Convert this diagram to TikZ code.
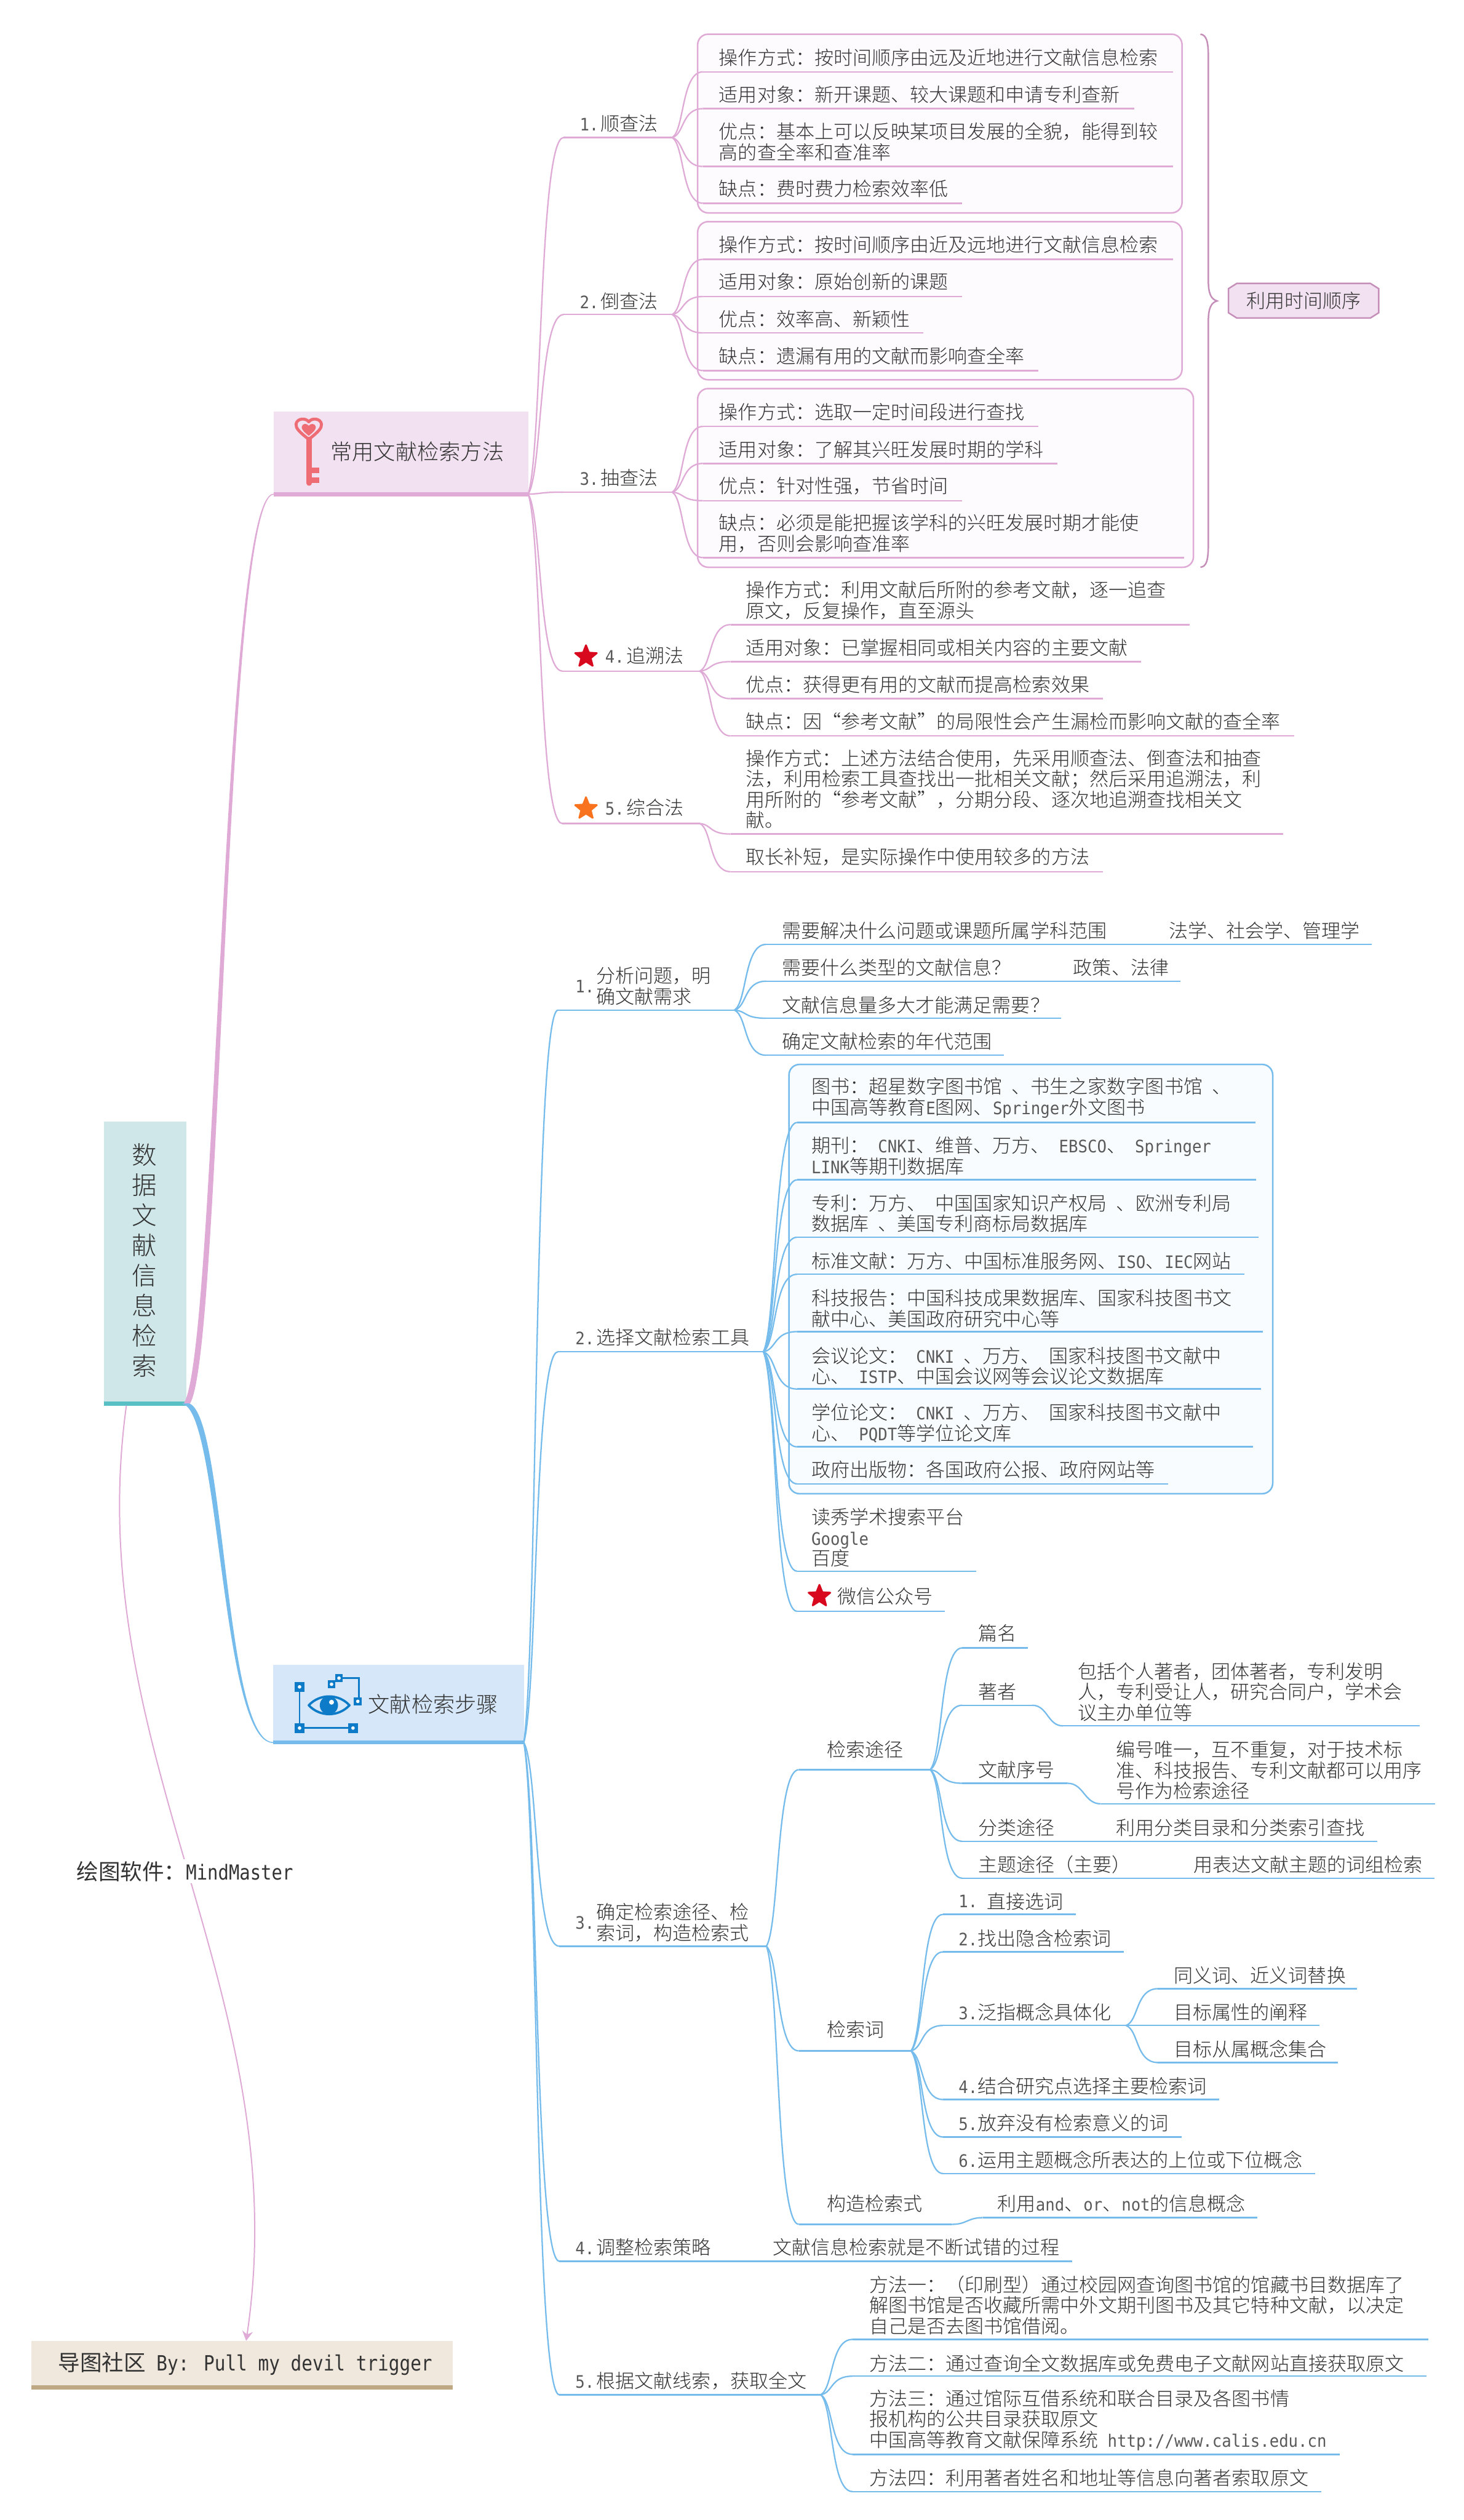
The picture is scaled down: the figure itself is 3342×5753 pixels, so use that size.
\documentclass[tikz,border=0pt]{standalone}
\usepackage{fontspec}
\usetikzlibrary{calc,shapes.geometric,arrows.meta}
\setmainfont{Noto Sans CJK SC}[UprightFont=* Light,WordSpace=2.2]
\newfontfamily\regf{Noto Sans CJK SC}[WordSpace=2.2]
\newfontfamily\latf{DejaVu Sans Mono}[Scale=0.9,FakeStretch=0.92]
\newfontfamily\dvm{DejaVu Sans Mono}[FakeStretch=0.86]
\definecolor{txtl}{HTML}{5A5A5A}
\newcommand{\lat}[1]{{\latf\color{txtl}#1}}
\definecolor{pinkc}{HTML}{DFAAD5}
\definecolor{pinkd}{HTML}{C58FBA}
\definecolor{pinkf}{HTML}{F2E1F0}
\definecolor{pinkb}{HTML}{FEFBFE}
\definecolor{bluec}{HTML}{75BCEC}
\definecolor{bluef}{HTML}{D5E7F8}
\definecolor{blueb}{HTML}{F9FCFE}
\definecolor{icob}{HTML}{0D7BC8}
\definecolor{icor}{HTML}{EE6C74}
\definecolor{tealf}{HTML}{CFE7E9}
\definecolor{tealb}{HTML}{58BFC4}
\definecolor{tanf}{HTML}{F0E8DD}
\definecolor{tanb}{HTML}{BFA984}
\definecolor{txtc}{HTML}{333333}
\definecolor{starr}{HTML}{D8091F}
\definecolor{staro}{HTML}{F9731F}
\tikzset{
 txt/.style={anchor=west,inner sep=0,align=left,text=txtc,font=\fontsize{10.9}{11.75}\selectfont},
 pinkln/.style={draw=pinkc,line width=.8pt},
 blueln/.style={draw=bluec,line width=.8pt},
 stark/.style={star,star points=5,star point ratio=2.3,inner sep=0,minimum size=13pt,line join=round,line width=1pt},
 sq/.style={fill=icob,inner sep=0,minimum size=5.5pt,rectangle},
 sqs/.style={fill=icob,inner sep=0,minimum size=4.5pt,rectangle},
}
\newcommand{\RN}[6]{\pgfmathsetmacro\wtmp{(#4-#2)*.25}\pgfmathsetmacro\htmp{(#5-#3)*.25}\node[#6,anchor=north west,inner sep=0,outer sep=0,minimum width=\wtmp pt,minimum height=\htmp pt] (#1) at (#2,#3) {};}
\newcommand{\mconn}[3]{\draw[#3] let \p1=(#1),\p2=(#2),\n1={\x2-\x1},\n2={\y2-\y1} in (\p1) .. controls ({\x1+.4*\n1},{\y1+.12*\n2}) and ({\x1+.3*\n1},{\y2}) .. (\p2);}
\newcommand{\sconn}[3]{\draw[#3] let \p1=(#1),\p2=(#2),\n1={\x2-\x1},\n2={\y2-\y1} in (\p1) .. controls ({\x1+.5*\n1},{\y1}) and ({\x1+.5*\n1},{\y2}) .. (\p2);}
\newcommand{\taper}[5]{\fill[#3,draw=#3,line width=.5pt] let \p1=(#1),\p2=(#2),\n1={\x2-\x1},\n2={\y2-\y1} in
 ({\x1-1.5pt},{\y1}) .. controls ({\x1+#4*\n1-1.3pt},{\y1+#5*\n2}) and ({\x1+.42*\n1-.5pt},{\y2}) .. (\p2)
 .. controls ({\x1+.42*\n1+.5pt},{\y2}) and ({\x1+#4*\n1+1.3pt},{\y1+#5*\n2}) .. ({\x1+1.5pt},{\y1}) -- cycle;}
% branch: name, parent, xs, xe, y
\newcommand{\Br}[5]{\coordinate (#1-l) at (#3,#5);\coordinate (#1-r) at (#4,#5);\mconn{#2-r}{#1-l}{ln}\draw[ln,line width=.875pt] (#1-l) -- (#1-r);}
\newcommand{\Sb}[5]{\coordinate (#1-l) at (#3,#5);\coordinate (#1-r) at (#4,#5);\sconn{#2-r}{#1-l}{ln}\draw[ln,line width=.875pt] (#1-l) -- (#1-r);}
\newcommand{\T}[4]{\node[txt] (#1-t) at (#2,#3) {#4};}
\newcommand{\nn}[1]{\lat{#1}\hspace{1.2pt}}
\begin{document}
\begin{tikzpicture}[x=.25pt,y=-.25pt]
\useasboundingbox[fill=white] (0,0) rectangle (3342,5753);
% ---------- root
\RN{root}{238}{2560}{426}{3209}{fill=tealf}
\RN{rootbar}{238}{3200}{426}{3209}{fill=tealb}
\node[inner sep=0,align=center,text=txtc,font=\fontsize{14.25}{17.2}\selectfont] (roott) at (330,2877.5) {数\\据\\文\\献\\信\\息\\检\\索};
\coordinate (root-r) at (426,3205);
% ---------- first-level nodes
\RN{key}{625}{939}{1206}{1133}{fill=pinkf}
\RN{keybar}{625}{1124}{1206}{1133}{fill=pinkc}
\coordinate (key-l) at (625,1128);
\coordinate (key-r) at (1206,1128);
\node[txt,font=\fontsize{12.375}{14}\selectfont] (keyt) at (754,1031) {常用文献检索方法};
\RN{step}{623.5}{3801}{1196}{3982}{fill=bluef}
\RN{stepbar}{623.5}{3974}{1196}{3982}{fill=bluec}
\coordinate (step-l) at (623.5,3978);
\coordinate (step-r) at (1196,3978);
\node[txt,font=\fontsize{12.375}{14}\selectfont] (stept) at (840,3890) {文献检索步骤};
\taper{root-r}{key-l}{pinkc}{.38}{.05}
\taper{root-r}{step-l}{bluec}{.42}{.04}
% key icon
\draw[icor,line width=1.7pt,line join=round] (705,1003) .. controls (682,985) and (675,977) .. (676,968) .. controls (678,955) and (698,953) .. (705,963) .. controls (712,953) and (732,955) .. (734,968) .. controls (735,977) and (728,985) .. (705,1003) -- cycle;
\fill[icor] (705,995) .. controls (693,985) and (688,980) .. (689,974) .. controls (691,966) and (701,966) .. (705,972) .. controls (709,966) and (719,966) .. (721,974) .. controls (722,980) and (717,985) .. (705,995) -- cycle;
\draw[icor,line width=3pt,line cap=round] (706,1003) -- (706,1103);
\draw[icor,line width=3pt] (708,1074) -- (729,1074) (708,1096) -- (729,1096);
% eye icon
\draw[icob,line width=1pt] (684,3851) -- (684,3945) -- (806,3945);
\draw[icob,line width=1pt] (774,3831) -- (819,3831) -- (819,3884);
\node[sq] (ic1) at (684,3851) {};\node[sq] (ic2) at (684,3945) {};\node[sq] (ic3) at (806,3945) {};
\node[sqs] (ic4) at (817,3884) {};\node[sqs] (ic5) at (774,3831) {};\node[sqs] (ic6) at (757,3845) {};
\foreach \a/\b in {684/3851,684/3945,806/3945,817/3884,774/3831,757/3845}{\fill[white] (\a,\b) circle (1pt);}
\draw[icob,line width=1.3pt,line join=round] (705,3893) .. controls (730,3866) and (773,3866) .. (798,3893) .. controls (773,3920) and (730,3920) .. (705,3893) -- cycle;
\fill[icob] (751,3893) circle (5.2pt);
\fill[white] (757,3886) circle (1.4pt);
% ---------- containers
\RN{cA}{1593}{78}{2699}{486}{draw=pinkc,fill=pinkb,line width=.875pt,rounded corners=6pt}
\RN{cB}{1593}{506}{2699}{867}{draw=pinkc,fill=pinkb,line width=.875pt,rounded corners=6pt}
\RN{cC}{1593}{887}{2725}{1295}{draw=pinkc,fill=pinkb,line width=.875pt,rounded corners=6pt}
\RN{cD}{1801.5}{2430}{2906}{3410}{draw=bluec,fill=blueb,line width=.875pt,rounded corners=6pt}
% ---------- pink half
\begin{scope}[ln/.style=pinkln]
\Br{a}{key}{1287}{1535}{314}\T{a}{1323}{282}{\nn{1.}顺查法}
\Br{b}{key}{1287}{1535}{718}\T{b}{1323}{688}{\nn{2.}倒查法}
\Br{c}{key}{1287}{1535}{1123.5}\T{c}{1323}{1091}{\nn{3.}抽查法}
\Br{d}{key}{1284}{1598}{1532}\T{d}{1381}{1496.5}{\nn{4.}追溯法}
\Br{e}{key}{1284}{1598}{1880}\T{e}{1381}{1844}{\nn{5.}综合法}
\node[stark,fill=starr,draw=starr] (stara) at (1338,1499) {};
\node[stark,fill=staro,draw=staro] (starb) at (1338,1846) {};
\Br{a1}{a}{1605}{2678}{164}\T{a1}{1641}{131}{操作方式：按时间顺序由远及近地进行文献信息检索}
\Br{a2}{a}{1605}{2590}{248}\T{a2}{1641}{216}{适用对象：新开课题、较大课题和申请专利查新}
\Br{a3}{a}{1605}{2678}{380}\T{a3}{1641}{323.5}{优点：基本上可以反映某项目发展的全貌，能得到较\\高的查全率和查准率}
\Br{a4}{a}{1605}{2196}{464}\T{a4}{1641}{431}{缺点：费时费力检索效率低}
\Br{b1}{b}{1605}{2678}{592}\T{b1}{1641}{559}{操作方式：按时间顺序由近及远地进行文献信息检索}
\Br{b2}{b}{1605}{2196}{677}\T{b2}{1641}{643.5}{适用对象：原始创新的课题}
\Br{b3}{b}{1605}{2108}{760}\T{b3}{1641}{728}{优点：效率高、新颖性}
\Br{b4}{b}{1605}{2371}{846}\T{b4}{1641}{813}{缺点：遗漏有用的文献而影响查全率}
\Br{c1}{c}{1605}{2371}{973.5}\T{c1}{1641}{941}{操作方式：选取一定时间段进行查找}
\Br{c2}{c}{1605}{2414}{1058}\T{c2}{1641}{1026}{适用对象：了解其兴旺发展时期的学科}
\Br{c3}{c}{1605}{2196}{1143}\T{c3}{1641}{1109}{优点：针对性强，节省时间}
\Br{c4}{c}{1605}{2704}{1273}\T{c4}{1641}{1217.5}{缺点：必须是能把握该学科的兴旺发展时期才能使\\用，否则会影响查准率}
\Br{d1}{d}{1668}{2717}{1426}\T{d1}{1702}{1370.5}{操作方式：利用文献后所附的参考文献，逐一追查\\原文，反复操作，直至源头}
\Br{d2}{d}{1668}{2605}{1510.5}\T{d2}{1702}{1478}{适用对象：已掌握相同或相关内容的主要文献}
\Br{d3}{d}{1668}{2518}{1595}\T{d3}{1702}{1563}{优点：获得更有用的文献而提高检索效果}
\Br{d4}{d}{1668}{2955}{1680}\T{d4}{1702}{1647}{缺点：因“参考文献”的局限性会产生漏检而影响文献的查全率}
\Br{e1}{e}{1668}{2930}{1904}\T{e1}{1702}{1801.5}{操作方式：上述方法结合使用，先采用顺查法、倒查法和抽查\\法，利用检索工具查找出一批相关文献；然后采用追溯法，利\\用所附的“参考文献”，分期分段、逐次地追溯查找相关文\\献。}
\Br{e2}{e}{1668}{2518}{1990}\T{e2}{1702}{1956}{取长补短，是实际操作中使用较多的方法}
\end{scope}
% brace and summary
\draw[pinkd,line width=.875pt] (2741,78) .. controls (2755,80) and (2759,95) .. (2759,130) -- (2759,640) .. controls (2759,670) and (2765,683) .. (2779,687) .. controls (2765,691) and (2759,704) .. (2759,734) -- (2759,1240) .. controls (2759,1280) and (2755,1293) .. (2741,1295);
\filldraw[draw=pinkd,fill=pinkf,line width=.875pt] (2824,647) -- (3129,647) -- (3148,659) -- (3148,714) -- (3129,726) -- (2824,726) -- (2805,714) -- (2805,659) -- cycle;
\node[inner sep=0,text=txtc,font=\fontsize{10.9}{11.75}\selectfont] (summ) at (2976.5,686.5) {利用时间顺序};
% ---------- blue half
\begin{scope}[ln/.style=blueln]
\Br{f}{step}{1274}{1677}{2306}
\T{fn}{1313}{2252}{\lat{1.}}\T{f}{1361}{2251}{分析问题，明\\确文献需求}
\Br{g}{step}{1274}{1743}{3086}\T{g}{1313}{3053}{\nn{2.}选择文献检索工具}
\Br{h}{step}{1277}{1750}{4443}
\T{hn}{1313}{4389}{\lat{3.}}\T{h}{1361}{4389}{确定检索途径、检\\索词，构造检索式}
\Br{i}{step}{1277}{2448}{5162}\T{i}{1313}{5130}{\nn{4.}调整检索策略}\T{ib}{1764}{5130}{文献信息检索就是不断试错的过程}
\Br{j}{step}{1277}{1874}{5467}\T{j}{1313}{5434.7}{\nn{5.}根据文献线索，获取全文}
\Br{f1}{f}{1749}{3132}{2156}\T{f1}{1785}{2124.6}{需要解决什么问题或课题所属学科范围}\T{f1b}{2668}{2124.6}{法学、社会学、管理学}
\Br{f2}{f}{1749}{2695}{2240}\T{f2}{1785}{2209}{需要什么类型的文献信息？}\T{f2b}{2450}{2209}{政策、法律}
\Br{f3}{f}{1749}{2423}{2324.5}\T{f3}{1785}{2294}{文献信息量多大才能满足需要？}
\Br{f4}{f}{1749}{2292}{2409}\T{f4}{1785}{2377}{确定文献检索的年代范围}
\Br{g1}{g}{1820}{2866}{2562.5}\T{g1}{1852}{2506.5}{图书：超星数字图书馆 、书生之家数字图书馆 、\\中国高等教育\lat{E}图网、\lat{Springer}外文图书}
\Br{g2}{g}{1820}{2868}{2693.5}\T{g2}{1852}{2639}{期刊： \lat{CNKI}、维普、万方、 \lat{EBSCO}、 \lat{Springer}\\\lat{LINK}等期刊数据库}
\Br{g3}{g}{1820}{2873}{2824.5}\T{g3}{1852}{2770}{专利：万方、 中国国家知识产权局 、欧洲专利局\\数据库 、美国专利商标局数据库}
\Br{g4}{g}{1820}{2842}{2909}\T{g4}{1852}{2878.4}{标准文献：万方、中国标准服务网、\lat{ISO}、\lat{IEC}网站}
\Br{g5}{g}{1820}{2884}{3040}\T{g5}{1852}{2987}{科技报告：中国科技成果数据库、国家科技图书文\\献中心、美国政府研究中心等}
\Br{g6}{g}{1820}{2879}{3171}\T{g6}{1852}{3118}{会议论文： \lat{CNKI} 、万方、 国家科技图书文献中\\心、 \lat{ISTP}、中国会议网等会议论文数据库}
\Br{g7}{g}{1820}{2861}{3303}\T{g7}{1852}{3249}{学位论文： \lat{CNKI} 、万方、 国家科技图书文献中\\心、 \lat{PQDT}等学位论文库}
\Br{g8}{g}{1820}{2667}{3387.6}\T{g8}{1852}{3355}{政府出版物：各国政府公报、政府网站等}
\Br{g9}{g}{1820}{2229}{3587}\T{g9}{1852}{3510.5}{读秀学术搜索平台\\\lat{Google}\\百度}
\Br{g10}{g}{1820}{2158}{3678.6}\T{g10}{1911}{3644}{微信公众号}
\node[stark,fill=starr,draw=starr] (starc) at (1871,3644) {};
\Br{h1}{h}{1824}{2124}{4040}\T{h1}{1888}{3994}{检索途径}
\Br{h2}{h}{1824}{2080}{4682}\T{h2}{1888}{4633.5}{检索词}
\Br{h3}{h}{1824}{2173}{5078}\T{h3}{1888}{5031}{构造检索式}
\Sb{h3a}{h3}{2244}{2871}{5062.7}\T{h3a}{2277}{5031}{利用\lat{and}、\lat{or}、\lat{not}的信息概念}
\Br{p1}{h1}{2197}{2347}{3762}\T{p1}{2233}{3729}{篇名}
\Br{p2}{h1}{2197}{2357}{3893}\T{p2}{2233}{3862.6}{著者}
\Sb{p2a}{p2}{2427}{3241}{3940}\T{p2a}{2460}{3862.6}{包括个人著者，团体著者，专利发明\\人，专利受让人，研究合同户，学术会\\议主办单位等}
\Br{p3}{h1}{2197}{2437}{4071}\T{p3}{2233}{4040.7}{文献序号}
\Sb{p3a}{p3}{2513.5}{3277}{4118}\T{p3a}{2548}{4041}{编号唯一，互不重复，对于技术标\\准、科技报告、专利文献都可以用序\\号作为检索途径}
\Br{p4}{h1}{2197}{3145}{4203.5}\T{p4}{2233}{4172.6}{分类途径}\T{p4b}{2548}{4172.6}{利用分类目录和分类索引查找}
\Br{p5}{h1}{2197}{3275}{4287.7}\T{p5}{2233}{4257}{主题途径（主要）}\T{p5b}{2724}{4257}{用表达文献主题的词组检索}
\Br{q1}{h2}{2153}{2456}{4370.5}\T{q1}{2188}{4341}{\lat{1.}}\T{q1b}{2253}{4341}{直接选词}
\Br{q2}{h2}{2153}{2565.5}{4456}\T{q2}{2188}{4425}{\lat{2.}找出隐含检索词}
\Br{q3}{h2}{2153}{2571}{4624}\T{q3}{2188}{4594}{\lat{3.}泛指概念具体化}
\Br{q4}{h2}{2153}{2784}{4793}\T{q4}{2188}{4762.5}{\lat{4.}结合研究点选择主要检索词}
\Br{q5}{h2}{2153}{2698}{4878.6}\T{q5}{2188}{4846}{\lat{5.}放弃没有检索意义的词}
\Br{q6}{h2}{2153}{3003}{4962}\T{q6}{2188}{4930}{\lat{6.}运用主题概念所表达的上位或下位概念}
\Br{r1}{q3}{2644}{3099}{4540}\T{r1}{2680}{4509}{同义词、近义词替换}
\Br{r2}{q3}{2644}{3012.5}{4624}\T{r2}{2680}{4593.5}{目标属性的阐释}
\Br{r3}{q3}{2644}{3055}{4708.6}\T{r3}{2680}{4677.7}{目标从属概念集合}
\Br{j1}{j}{1946.5}{3262}{5340.7}\T{j1}{1984}{5262.5}{方法一：（印刷型）通过校园网查询图书馆的馆藏书目数据库了\\解图书馆是否收藏所需中外文期刊图书及其它特种文献，以决定\\自己是否去图书馆借阅。}
\Br{j2}{j}{1946.5}{3257}{5424.6}\T{j2}{1984}{5395}{方法二：通过查询全文数据库或免费电子文献网站直接获取原文}
\Br{j3}{j}{1946.5}{3059}{5603}\T{j3}{1984}{5524.7}{方法三：通过馆际互借系统和联合目录及各图书情\\报机构的公共目录获取原文\\中国高等教育文献保障系统 \lat{http://www.calis.edu.cn}}
\Br{j4}{j}{1946.5}{3016.5}{5688}\T{j4}{1984}{5657}{方法四：利用著者姓名和地址等信息向著者索取原文}
\end{scope}
% ---------- footer and relation
\RN{foot}{71}{5344}{1034}{5455}{fill=tanf}
\RN{footbar}{71}{5446}{1034}{5455}{fill=tanb}
\node[txt,text=black!80,font=\regf\fontsize{12.5}{14}\selectfont] (foott) at (132,5396) {导图社区 {\dvm\fontsize{12}{14}\selectfont By: Pull my devil trigger}};
\coordinate (relA) at (288.5,3209);
\coordinate (relB) at (562,5344);
\draw[pinkc,line width=.7pt,-{Stealth[length=5.5pt,width=6pt]}] (relA) .. controls (180,4000) and (680,4550) .. (relB);
\node[txt,text=black!80,fill=white,inner ysep=1pt,font=\regf\fontsize{12.5}{14}\selectfont] (soft) at (174,4272) {绘图软件：{\dvm\fontsize{11.8}{14}\selectfont MindMaster}};
\end{tikzpicture}
\end{document}
